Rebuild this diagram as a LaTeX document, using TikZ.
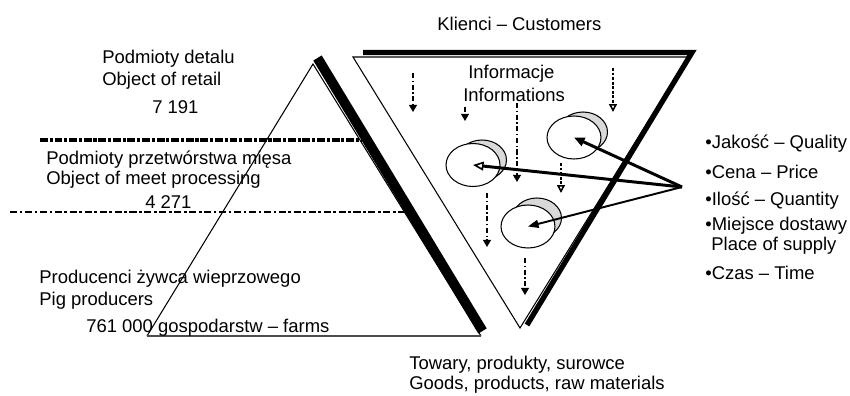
\documentclass[tikz,border=0pt]{standalone}
\usepackage{fontspec}
\setmainfont{Liberation Sans}
\usetikzlibrary{arrows.meta,shapes.geometric}

\tikzset{
  lbl/.style={anchor=west, inner sep=0pt, font=\fontsize{10.5}{12}\selectfont},
  edge/.style={line width=0.6pt},
  shade/.style={line width=5.6pt},
  level/.style={line width=0.6pt, dash pattern=on 4pt off 1.5pt on 1.5pt off 1.5pt},
  info/.style={line width=0.6pt, dash pattern=on 3pt off 1.4pt on 0.8pt off 1.4pt,
    -{Triangle[length=4pt,width=4.5pt]}},
  infobold/.style={line width=1.5pt, dash pattern=on 1.6pt off 1pt,
    -{Triangle[open,length=4.5pt,width=4.5pt,line width=0.9pt]}},
  coin/.style={ellipse, draw, fill=white, line width=0.6pt, inner sep=0pt,
    minimum width=1.08cm, minimum height=0.86cm},
  coinback/.style={coin, fill=gray!30, minimum width=0.98cm, minimum height=0.8cm},
  demand/.style={line width=1.7pt, -{Triangle[open,length=6pt,width=5pt,line width=0.9pt]}},
}

\begin{document}
\begin{tikzpicture}[x=0.02cm, y=-0.02cm]
  \useasboundingbox (0,0) rectangle (850,396);

  % Levels of the chain
  \draw[line width=2pt, dash pattern=on 4.5pt off 1pt on 1.8pt off 1pt] (40,140) -- (362,140);
  \draw[level] (10,212) -- (406,212);

  % Pyramid of suppliers, shadow first
  \draw[shade] (317.5,58) -- (482.5,331);
  \draw[edge] (147,336) -- (313,64) -- (481,336);
  \draw[line width=1pt, gray!60!black] (147,336) -- (481,336);

  % Funnel of customers, shadow first
  \draw[shade, line width=3pt, line join=miter] (363,52.5) -- (692,52.5) -- (527,325);
  \draw[edge] (353,57) -- (688,57) -- (520,328) -- cycle;

  % Labels of the pyramid
  \node[lbl] (retailpl)  at (102,59)  {Podmioty detalu};
  \node[lbl] (retailen)  at (102,81)  {Object of retail};
  \node[lbl] (retailnum) at (152,107) {7 191};
  \node[lbl] (procpl)    at (46,160)  {Podmioty przetwórstwa mięsa};
  \node[lbl] (procen)    at (46,180)  {Object of meet processing};
  \node[lbl] (procnum)   at (145,202) {4 271};
  \node[lbl] (farmpl)    at (39,279)  {Producenci żywca wieprzowego};
  \node[lbl] (farmen)    at (39,301)  {Pig producers};
  \node[lbl] (farmnum)   at (86,328)  {761 000 gospodarstw – farms};

  % Labels of the funnel
  \node[lbl] (cust)    at (437,24)  {Klienci – Customers};
  \node[lbl] (infopl)  at (468,74)  {Informacje};
  \node[lbl] (infoen)  at (463,95)  {Informations};
  \node[lbl] (goodspl) at (409,365) {Towary, produkty, surowce};
  \node[lbl] (goodsen) at (409,385) {Goods, products, raw materials};

  % Demand criteria
  \node[lbl] (qual)    at (705,144) {•Jakość – Quality};
  \node[lbl] (price)   at (705,172) {•Cena – Price};
  \node[lbl] (qty)     at (705,201) {•Ilość – Quantity};
  \node[lbl] (placepl) at (705,226) {•Miejsce dostawy};
  \node[lbl] (placeen) at (711,246) {Place of supply};
  \node[lbl] (time)    at (705,273) {•Czas – Time};

  % Information flowing down
  \coordinate (ia) at (413,73);  \coordinate (ia') at (413,112);
  \coordinate (ib) at (465,107); \coordinate (ib') at (465,121);
  \coordinate (ic) at (517,103); \coordinate (ic') at (517,182);
  \coordinate (id) at (613,68);  \coordinate (id') at (613,112);
  \coordinate (ie) at (561,163); \coordinate (ie') at (561,193);
  \coordinate (if) at (487,193); \coordinate (if') at (487,247);
  \coordinate (ig) at (525,258); \coordinate (ig') at (525,295);
  \draw[info] (ia) -- (ia');
  \draw[info] (ib) -- (ib');
  \draw[info] (ic) -- (ic');
  \draw[info] (if) -- (if');
  \draw[info] (ig) -- (ig');
  \draw[infobold] (id) -- (id');
  \draw[infobold] (ie) -- (ie');

  % Customer groups
  \node[coinback] (e1b) at (482,160) {};
  \node[coin]     (e1)  at (473,165) {};
  \node[coinback] (e2b) at (583,132) {};
  \node[coin]     (e2)  at (574,137.5) {};
  \node[coinback] (e3b) at (537,218) {};
  \node[coin]     (e3)  at (528,226.5) {};

  % Criteria pointing at the groups
  \coordinate (src) at (682,187);
  \draw[demand] (src) -- (e1.center);
  \draw[demand, -{Triangle[length=6pt,width=5pt]}] (src) -- (e2.center);
  \draw[demand, line width=1.1pt, -{Triangle[length=6pt,width=4.5pt]}] (src) -- (e3.center);
\end{tikzpicture}
\end{document}
